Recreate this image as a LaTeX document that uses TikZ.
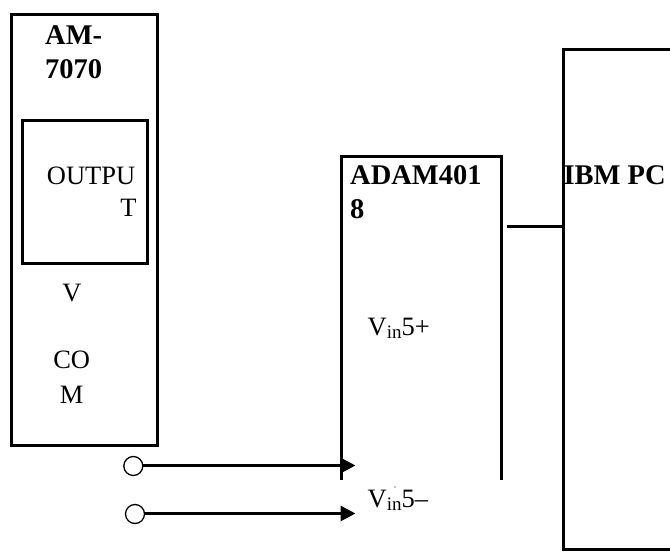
\documentclass[tikz,border=0pt]{standalone}
\usepackage{fontspec}
\setmainfont{Liberation Serif}
\usetikzlibrary{arrows.meta}
\newcommand{\vinsub}{\raisebox{-3pt}{\fontsize{19}{19}\selectfont in}}
\tikzset{
  wire/.style={line width=3pt},
  box/.style={draw,line width=3pt,inner sep=0pt,outer sep=0pt,anchor=north west},
  lbl/.style={inner sep=0pt,anchor=base west,font=\fontsize{26.5}{26.5}\selectfont},
  blbl/.style={inner sep=0pt,anchor=base west,font=\fontsize{28.5}{28.5}\selectfont\bfseries},
  term/.style={circle,draw,line width=1.3pt,minimum size=19pt,inner sep=0pt,outer sep=0pt},
  arrowline/.style={wire,-{Triangle[length=15pt,width=15pt]}},
}
\begin{document}
\begin{tikzpicture}[x=1pt,y=-1pt]
\useasboundingbox (0,0) rectangle (670,556);
% AM-7070
\node[box,minimum width=146pt,minimum height=431pt] (am) at (11.5,14.5) {};
\node[box,minimum width=125pt,minimum height=143pt] (out) at (22,121) {};
% ADAM (open at the bottom)
\coordinate (adl) at (341.5,480);
\coordinate (adtl) at (341.5,156.5);
\coordinate (adtr) at (501.5,156.5);
\coordinate (adr) at (501.5,480);
\draw[wire,line join=miter] (adl) -- (adtl) -- (adtr) -- (adr);
% IBM PC
\node[box,minimum width=120pt,minimum height=499.5pt] (ibm) at (563.5,49.5) {};
\coordinate (link) at (506.7,226.5);
\draw[wire] (link) -- (link -| ibm.west);
% labels
\node[blbl] (t1) at (45,45) {AM-};
\node[blbl] (t2) at (45,79) {7070};
\node[lbl] (t3) at (46.7,185) {OUTPU};
\node[lbl,anchor=base east] (t4) at (136.7,217) {T};
\node[lbl,anchor=base] (t5) at (72,301.7) {V};
\node[lbl,anchor=base] (t6) at (71.7,369) {CO};
\node[lbl,anchor=base] (t7) at (71.7,403) {M};
\node[blbl] (t8) at (350,185) {ADAM401};
\node[blbl] (t9) at (350,219) {8};
\node[blbl] (t10) at (563.3,185) {IBM PC};
\node[lbl] (t11) at (367.5,335) {V\vinsub 5+};
\node[lbl] (t12) at (367.5,507) {V\vinsub 5–};
\fill (395,487) circle (0.7pt);
% terminals and arrows
\node[term] (c1) at (133.3,466) {};
\node[term] (c2) at (135,514) {};
\coordinate (e1) at (355.5,465.5);
\coordinate (e2) at (355.5,513.5);
\draw[arrowline] (c1.east |- e1) -- (e1);
\draw[arrowline] (c2.east |- e2) -- (e2);
\end{tikzpicture}
\end{document}
